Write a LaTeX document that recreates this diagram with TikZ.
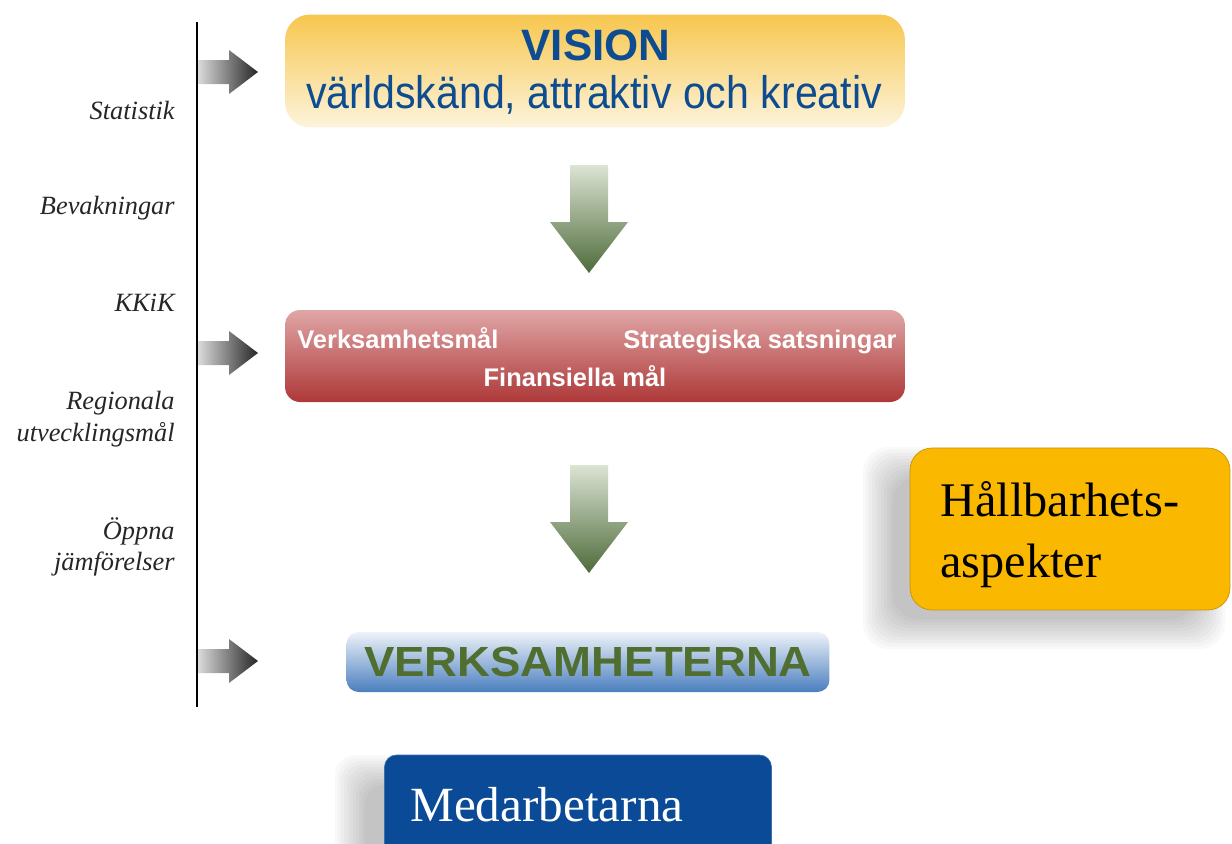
\documentclass[tikz,border=0pt]{standalone}
\usepackage{fontspec}
\setmainfont{Liberation Serif}
\setsansfont{Liberation Sans}
\usepackage{graphicx}
\usetikzlibrary{calc}

\definecolor{visiontop}{HTML}{F7C64E}
\definecolor{visionbot}{HTML}{FDF4DC}
\definecolor{visionblue}{HTML}{0D4C90}
\definecolor{goaltop}{HTML}{E0A6A6}
\definecolor{goalbot}{HTML}{AE3838}
\definecolor{opstop}{HTML}{EEF3F9}
\definecolor{opsbot}{HTML}{4A7EBE}
\definecolor{opsgreen}{HTML}{4F6E2F}
\definecolor{staffblue}{HTML}{0B4A97}
\definecolor{sustgold}{HTML}{FBB800}
\definecolor{flowtop}{HTML}{DCE4D4}
\definecolor{flowbot}{HTML}{4E6B3A}
\definecolor{feedlight}{HTML}{DADADA}
\definecolor{feeddark}{HTML}{262626}

\tikzset{
  sourcelabel/.style={anchor=east,inner sep=0pt,text=black!85,
    font=\fontsize{15}{18}\selectfont\itshape},
  feedarrow/.pic={
    \shade[left color=feedlight,right color=feeddark]
      (0,-12) -- (31,-12) -- (31,-22) -- (60,0) -- (31,22) -- (31,12) -- (0,12) -- cycle;
  },
  flowarrow/.pic={
    \shade[top color=flowtop,bottom color=flowbot]
      (-19,0) -- (19,0) -- (19,57) -- (39,57) -- (0,108) -- (-39,57) -- (-19,57) -- cycle;
  },
  goaltext/.style={inner sep=0pt,text=white,
    font=\sffamily\bfseries\fontsize{14.5}{16}\selectfont},
}

\begin{document}
\begin{tikzpicture}[x=0.02cm,y=-0.02cm]
  % Boundary
  \path[use as bounding box] (0,0) rectangle (1232,843);
  % Time line with sources
  \coordinate (linetop) at (197,22);
  \coordinate (linebot) at (197,707);
  \draw[line width=1.5pt] (linetop) -- (linebot);
  \node[sourcelabel] (statistik) at (175,110) {Statistik};
  \node[sourcelabel] (bevakningar) at (175,208) {Bevakningar};
  \node[sourcelabel] (kkik) at (175,303) {KKiK};
  \node[sourcelabel,align=right] (regionala) at (175,419) {Regionala\\utvecklingsmål};
  \node[sourcelabel,align=right] (oppna) at (175,547) {Öppna\\jämförelser};
  \pic at (198,72) {feedarrow};
  \pic at (198,353) {feedarrow};
  \pic at (198,661) {feedarrow};
  % Vision
  \node[rounded corners=0.5cm,top color=visiontop,bottom color=visionbot,
    minimum width=12.4cm,minimum height=2.26cm] (vision) at (595,71) {};
  \node[inner sep=0pt,text=visionblue,font=\sffamily\bfseries\fontsize{25}{28}\selectfont]
    (visiontitle) at (596,45) {VISION};
  \node[inner sep=0pt,text=visionblue,font=\sffamily\fontsize{26}{30}\selectfont]
    (visiontext) at (594,95) {\scalebox{0.9}[1]{världskänd, attraktiv och kreativ}};
  \pic at (589,165) {flowarrow};
  % Goals
  \node[rounded corners=0.3cm,top color=goaltop,bottom color=goalbot,
    minimum width=12.4cm,minimum height=1.84cm] (goals) at (595,356) {};
  \node[goaltext,anchor=base west] (verksamhetsmal) at (297,348) {Verksamhetsmål};
  \node[goaltext,anchor=base east] (strategiska) at (897,348) {Strategiska satsningar};
  \node[goaltext,anchor=base] (finansiella) at (575,386) {Finansiella mål};
  \pic at (589,465) {flowarrow};
  % Operations
  \node[rounded corners=0.24cm,top color=opstop,bottom color=opsbot,
    minimum width=9.66cm,minimum height=1.2cm,text=opsgreen,
    font=\sffamily\bfseries\fontsize{24}{28}\selectfont] (verksamheterna) at (588,662)
    {\scalebox{1.08}[1]{VERKSAMHETERNA}};
  % Staff
  \foreach \s in {0,3,...,30}
    \fill[black,opacity=0.022,rounded corners=0.4cm]
      (365-\s,785-\s) rectangle (740+\s,880+\s);
  \node[rounded corners=0.24cm,fill=staffblue,draw=staffblue!80!white,
    minimum width=7.74cm,minimum height=2.2cm] (medarbetarna) at (578,810) {};
  \node[anchor=west,inner sep=0pt,text=white,font=\fontsize{28}{30}\selectfont]
    (medtext) at (410,805) {Medarbetarna};
  % Sustainability
  \foreach \s in {0,3,...,30}
    \fill[black,opacity=0.022,rounded corners=0.5cm]
      (893-\s,477-\s) rectangle (1195+\s,619+\s);
  \node[rounded corners=0.44cm,fill=sustgold,draw=sustgold!80!black,
    minimum width=6.4cm,minimum height=3.24cm] (hallbarhet) at (1070,529) {};
  \node[anchor=west,inner sep=0pt,align=left,font=\fontsize{27.5}{34.6}\selectfont]
    (hallbtext) at (940,535) {Hållbarhets-\\aspekter};
\end{tikzpicture}
\end{document}
